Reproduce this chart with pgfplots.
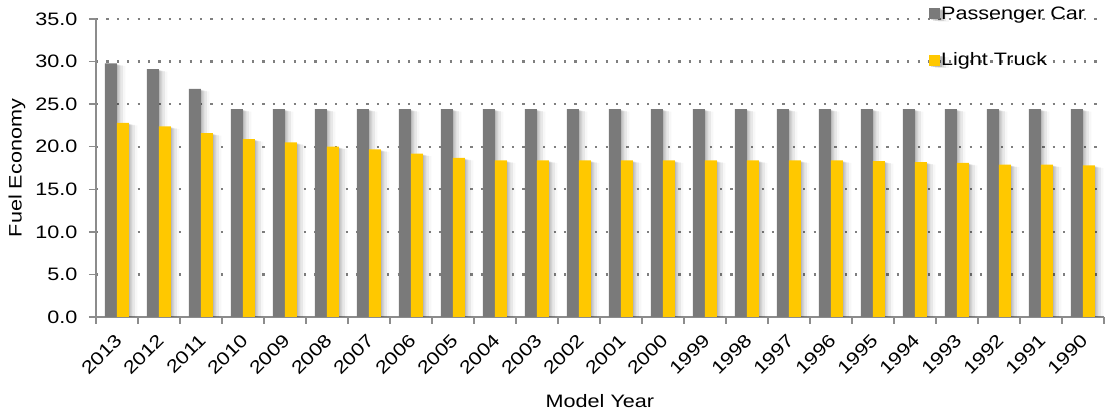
\documentclass[border=0pt]{standalone}
\usepackage{pgfplots}
\pgfplotsset{compat=1.18}
\usepackage{pgfplotstable}
\usepackage{fontspec}
\setmainfont{Liberation Sans}[FakeStretch=1.2]
\definecolor{barGray}{HTML}{7A7A7A}
\definecolor{barYellow}{HTML}{FFC800}
\definecolor{axGray}{HTML}{8C8C8C}
\definecolor{gridGray}{HTML}{7F7F7F}
\pgfplotstableread{
idx year car truck
0 2013 29.8 22.8
1 2012 29.1 22.4
2 2011 26.8 21.6
3 2010 24.4 20.9
4 2009 24.4 20.5
5 2008 24.4 20.0
6 2007 24.4 19.7
7 2006 24.4 19.2
8 2005 24.4 18.7
9 2004 24.4 18.4
10 2003 24.4 18.4
11 2002 24.4 18.4
12 2001 24.4 18.4
13 2000 24.4 18.4
14 1999 24.4 18.4
15 1998 24.4 18.4
16 1997 24.4 18.4
17 1996 24.4 18.4
18 1995 24.4 18.3
19 1994 24.4 18.2
20 1993 24.4 18.1
21 1992 24.4 17.9
22 1991 24.4 17.9
23 1990 24.4 17.8
}\datatable
\tikzset{
  barshadow/.style={
    preaction={fill=black, opacity=0.13, transform canvas={xshift=1.5pt, yshift=-1pt}},
    preaction={fill=black, opacity=0.09, transform canvas={xshift=3.5pt, yshift=-1.5pt}},
    preaction={fill=black, opacity=0.06, transform canvas={xshift=6pt, yshift=-2pt}},
    preaction={fill=black, opacity=0.03, transform canvas={xshift=8.5pt, yshift=-2.5pt}},
  }
}
\begin{document}
\begin{tikzpicture}
\path (-96pt,-100pt) rectangle (1009pt,317pt);
\begin{axis}[
  at={(0pt,0pt)}, anchor=south west,
  scale only axis,
  width=1008pt, height=298pt,
  xmin=-0.5, xmax=23.5,
  ymin=0, ymax=35,
  axis x line*=bottom, axis y line*=left,
  axis line style={draw=axGray, line width=1.5pt},
  font=\fontsize{18}{21}\selectfont,
  /pgf/number format/assume math mode=true,
  ytick={0,5,...,35},
  yticklabel style={xshift=-8pt, /pgf/number format/.cd, fixed, fixed zerofill, precision=1},
  xtick=data,
  xticklabels from table={\datatable}{year},
  minor xtick={-0.5,0.5,...,23.5},
  major x tick style={draw=none},
  tick align=outside,
  major tick length=7pt, minor tick length=7pt,
  tick style={draw=axGray, line width=1.5pt},
  xticklabel style={xshift=3pt, yshift=-12pt, rotate=45, anchor=east, inner sep=2pt},
  ymajorgrids,
  major grid style={draw=gridGray, line width=2.2pt, dash pattern=on 2.2pt off 8.2pt},
  every axis y label/.style={at={(axis description cs:-0.0784,0.5)}, rotate=90, anchor=center},
  every axis x label/.style={at={(axis description cs:0.5,-0.282)}, anchor=center},
  ylabel={Fuel Economy},
  xlabel={Model Year},
  legend style={at={(axis description cs:0.8264,1.045)}, anchor=north west,
    draw=none, fill=none, inner sep=0pt, row sep=30pt,
    nodes={inner sep=1pt, anchor=west}},
  legend cell align=left,
]
\addplot[ybar, bar width=12pt, bar shift=-6pt, fill=barGray, draw=none, barshadow,
  legend image code/.code={\fill[barGray] (0pt,-5.5pt) rectangle (11pt,5.5pt);}]
  table[x=idx, y=car] {\datatable};
\addlegendentry{Passenger Car}
\addplot[ybar, bar width=12pt, bar shift=6pt, fill=barYellow, draw=none, barshadow,
  legend image code/.code={\fill[barYellow] (0pt,-5.5pt) rectangle (11pt,5.5pt);}]
  table[x=idx, y=truck] {\datatable};
\addlegendentry{Light Truck}
\end{axis}
\end{tikzpicture}
\end{document}
